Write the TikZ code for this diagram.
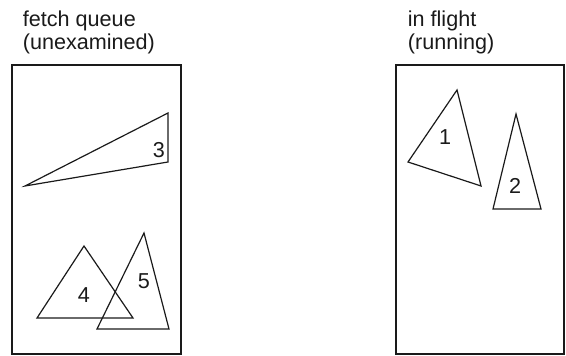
\documentclass[tikz,border=0pt]{standalone}
\usepackage{fontspec}
\setmainfont{Liberation Sans}
\usetikzlibrary{positioning}
\definecolor{sketchink}{HTML}{1A1A1A}
\tikzset{
  coltitle/.style={font=\fontsize{10.8}{11.6}\selectfont, text=sketchink,
    align=left, anchor=north west, inner sep=0pt},
  tasklabel/.style={font=\fontsize{10.8}{11}\selectfont, text=sketchink,
    inner sep=0pt},
  poolbox/.style={draw=sketchink, line width=.6pt},
  taskshape/.style={draw=sketchink, line width=.6pt, line join=miter}
}

\begin{document}
\begin{tikzpicture}[x=.5pt,y=-.5pt]
  \useasboundingbox (0,0) rectangle (566,356);

  % the two pools
  \draw[poolbox] (12,65) rectangle (181,354);
  \draw[poolbox] (396,65) rectangle (564,354);
  \node[coltitle] (queuetitle) at (22.5,10.5) {fetch queue\\(unexamined)};
  \node[coltitle] (flighttitle) at (407.5,10.5) {in flight\\(running)};

  % tasks waiting in the queue
  \draw[taskshape] (25,186) -- (168,113) -- (168,162) -- cycle;
  \node[tasklabel] (taskthree) at (159,150) {3};
  \draw[taskshape] (84,246) -- (37,318) -- (133,318) -- cycle;
  \node[tasklabel] (taskfour) at (84,295) {4};
  \draw[taskshape] (144,233) -- (97,329) -- (169,329) -- cycle;
  \node[tasklabel] (taskfive) at (144,281) {5};

  % tasks already running
  \draw[taskshape] (408,162) -- (457,90) -- (481,186) -- cycle;
  \node[tasklabel] (taskone) at (445,137) {1};
  \draw[taskshape] (516,114) -- (493,209) -- (541,209) -- cycle;
  \node[tasklabel] (tasktwo) at (515,186) {2};
\end{tikzpicture}
\end{document}
